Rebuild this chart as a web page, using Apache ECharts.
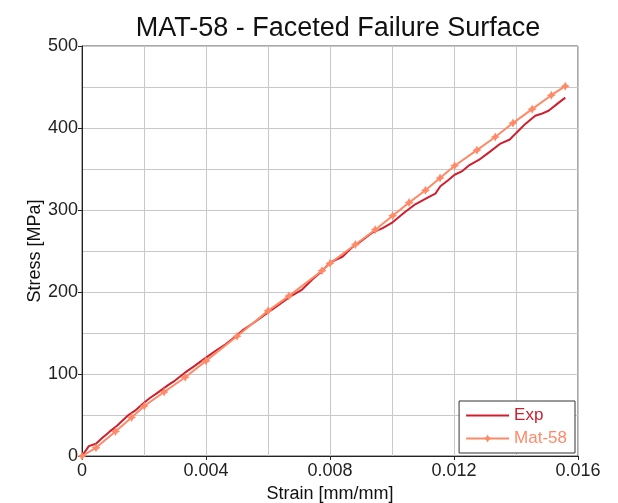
<!DOCTYPE html>
<html>
<head>
<meta charset="utf-8">
<script src="https://cdn.jsdelivr.net/npm/echarts@6/dist/echarts.min.js"></script>
<style>
html,body{margin:0;padding:0;background:#fff;}
#chart{width:618px;height:503px;}
</style>
</head>
<body>
<div id="chart"></div>
<script>
var titleText = 'MAT-58 - Faceted Failure Surface';
var xName = 'Strain [mm/mm]';
var yName = 'Stress [MPa]';
var seriesNames = ['Exp', 'Mat-58'];

var expStrain = [0, 0.00022, 0.00045, 0.00065, 0.0009, 0.00113, 0.0013, 0.0015, 0.0017, 0.002, 0.0022, 0.0024, 0.0028, 0.003, 0.0033, 0.0036, 0.004, 0.0043, 0.00462, 0.0049, 0.0052, 0.0056, 0.006, 0.0063, 0.0067, 0.0071, 0.00742, 0.0077, 0.008, 0.0084, 0.0087, 0.009, 0.00935, 0.0097, 0.01002, 0.0104, 0.01075, 0.01115, 0.0114, 0.01156, 0.0118, 0.01202, 0.01225, 0.01247, 0.0128, 0.01312, 0.0135, 0.0138, 0.01401, 0.0143, 0.01462, 0.0148, 0.01505, 0.01535, 0.01559];
var expStress = [0, 12, 15, 22, 30, 37, 43, 50, 55, 65, 71, 76, 87, 92, 101, 109, 120, 128, 136, 144, 154, 164, 175, 183, 194, 203, 215, 224, 236, 243, 254, 262, 272, 278, 285, 297, 307, 315, 320, 329, 336, 343, 347, 354, 361, 370, 381, 386, 394, 405, 415, 417, 421, 430, 437];

var matStrain = [0, 0.00045, 0.00108, 0.0016, 0.00201, 0.00265, 0.00333, 0.004, 0.005, 0.006, 0.00667, 0.00774, 0.008, 0.00882, 0.00946, 0.01002, 0.01055, 0.01108, 0.01155, 0.01202, 0.01274, 0.01333, 0.0139, 0.01452, 0.01514, 0.01559];
var matStress = [0, 10, 30, 47, 61, 78, 96, 116, 146, 177, 195, 226, 235, 258, 276, 293, 309, 324, 339, 354, 373, 389, 406, 423, 440, 451];

var xTicks = [0, 0.004, 0.008, 0.012, 0.016];
var yTicks = [0, 100, 200, 300, 400, 500];

function pairs(a, b) { return a.map(function (v, i) { return [v, b[i]]; }); }

var expColor = '#cf1f2e';
var matColor = '#ff8a68';
var starPath = 'path://M0,-10L3.5,-3.5L10,0L3.5,3.5L0,10L-3.5,3.5L-10,0L-3.5,-3.5Z';
var lineIcon = 'path://M0,0L0.01,0L0,0.01Z M0,4H43V6H0Z M43,10L42.99,10L43,9.99Z';
var font = '"Liberation Sans", Arial, sans-serif';

var chart = echarts.init(document.getElementById('chart'), null, {renderer: 'canvas'});
chart.setOption({
  backgroundColor: '#fff',
  animation: false,
  title: {
    text: titleText, left: 333, top: 10, textAlign: 'center',
    textStyle: {fontFamily: font, fontSize: 27, fontWeight: 'normal', color: '#111'}
  },
  grid: {left: 82, right: 40, top: 46, bottom: 47, show: true, borderColor: '#555', borderWidth: 1,
    containLabel: false, outerBoundsMode: 'none'},
  legend: {
    right: 43, bottom: 50, orient: 'vertical',
    borderColor: '#333', borderWidth: 1, backgroundColor: '#fff',
    padding: [6, 8, 6, 6], itemGap: 6, itemWidth: 43, itemHeight: 10,
    textStyle: {fontFamily: font, fontSize: 17},
    data: [
      {name: seriesNames[0], icon: lineIcon, itemStyle: {color: expColor, borderWidth: 0}, textStyle: {color: expColor}},
      {name: seriesNames[1], textStyle: {color: matColor}}
    ]
  },
  xAxis: {
    type: 'value', min: xTicks[0], max: xTicks[xTicks.length - 1], interval: 0.004,
    name: xName, nameLocation: 'middle', nameGap: 29, nameMoveOverlap: false,
    nameTextStyle: {fontFamily: font, fontSize: 18, color: '#111'},
    axisLine: {show: true, onZero: false, lineStyle: {color: '#222', width: 1}},
    axisTick: {show: true, length: 4, lineStyle: {color: '#222'}},
    axisLabel: {fontFamily: font, fontSize: 18, color: '#222', margin: 6,
      formatter: function (v) { return v === 0 ? '0' : v.toFixed(3); }},
    splitLine: {show: true, lineStyle: {color: '#c8c8c8', width: 1}},
    minorTick: {show: false, splitNumber: 2},
    minorSplitLine: {show: true, lineStyle: {color: '#c8c8c8', width: 1}}
  },
  yAxis: {
    type: 'value', min: yTicks[0], max: yTicks[yTicks.length - 1], interval: 100,
    name: yName, nameLocation: 'middle', nameGap: 38, nameMoveOverlap: false,
    nameTextStyle: {fontFamily: font, fontSize: 18, color: '#111'},
    axisLine: {show: true, onZero: false, lineStyle: {color: '#222', width: 1}},
    axisTick: {show: true, length: 4, lineStyle: {color: '#222'}},
    axisLabel: {fontFamily: font, fontSize: 18, color: '#222', margin: 4},
    splitLine: {show: true, lineStyle: {color: '#c8c8c8', width: 1}},
    minorTick: {show: false, splitNumber: 2},
    minorSplitLine: {show: true, lineStyle: {color: '#c8c8c8', width: 1}}
  },
  series: [
    {
      name: seriesNames[0], type: 'line', data: pairs(expStrain, expStress),
      showSymbol: false, symbol: 'none', color: expColor,
      lineStyle: {color: expColor, width: 2}
    },
    {
      name: seriesNames[1], type: 'line', data: pairs(matStrain, matStress),
      symbol: starPath, symbolSize: 9, showSymbol: true, color: matColor,
      itemStyle: {color: matColor},
      lineStyle: {color: matColor, width: 2}
    }
  ]
});
</script>
</body>
</html>
